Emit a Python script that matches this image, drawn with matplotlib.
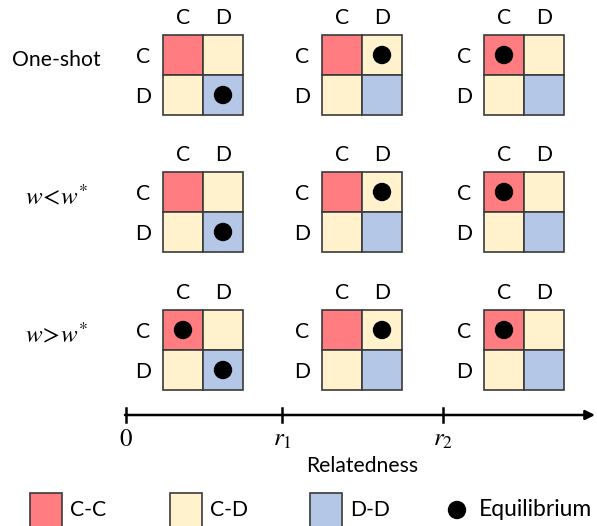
import matplotlib.pyplot as plt
from matplotlib.patches import Rectangle, Circle

plt.rcParams['font.family'] = ['Lato', 'DejaVu Sans']
plt.rcParams['mathtext.fontset'] = 'stix'

# scenarios (rows) and relatedness ranges (columns)
row_names = ["One-shot", r"$w\!<\!w^{*}$", r"$w\!>\!w^{*}$"]
strategies = ["C", "D"]
outcome_names = ["C-C", "C-D", "D-D"]
outcome_colors = ["#FF7C80", "#FFF2CC", "#B4C7E7"]
# outcome of each cell (row strategy, column strategy)
cell_outcome = [["C-C", "C-D"], ["C-D", "D-D"]]
# equilibrium cells (row idx, col idx) per scenario and relatedness range
equilibria = [
    [[(1, 1)], [(0, 1)], [(0, 0)]],
    [[(1, 1)], [(0, 1)], [(0, 0)]],
    [[(0, 0), (1, 1)], [(0, 1)], [(0, 0)]],
]
tick_labels = ["0", r"$r_1$", r"$r_2$"]
axis_label = "Relatedness"

fig = plt.figure(figsize=(5.97, 5.26), dpi=100)
ax = fig.add_axes([0, 0, 1, 1])
ax.set_xlim(0, 597)
ax.set_ylim(526, 0)
ax.axis('off')

grid_x = [163, 322, 484]
grid_y = [35, 172, 310]
cell = 40
edge = "#3A3A3A"
fs = 15.2

for i, name in enumerate(row_names):
    if i == 0:
        ax.text(12, grid_y[i] + 25, name, fontsize=fs, ha='left', va='center')
    else:
        ax.text(25, grid_y[i] + 25, name, fontsize=18, ha='left', va='center')
    for j in range(3):
        x0, y0 = grid_x[j], grid_y[i]
        for a in range(2):
            ax.text(x0 + cell * a + cell / 2, y0 - 17, strategies[a],
                    fontsize=fs, ha='center', va='center')
            ax.text(x0 - 20, y0 + cell * a + cell / 2 + 2, strategies[a],
                    fontsize=fs, ha='center', va='center')
            for b in range(2):
                col = outcome_colors[outcome_names.index(cell_outcome[a][b])]
                ax.add_patch(Rectangle((x0 + cell * b, y0 + cell * a), cell, cell,
                                       facecolor=col, edgecolor=edge, lw=1.2))
        for (a, b) in equilibria[i][j]:
            ax.add_patch(Circle((x0 + cell * b + cell / 2, y0 + cell * a + cell / 2),
                                8.5, color='black'))

# relatedness axis
ax.annotate("", xy=(595, 415), xytext=(125, 415),
            arrowprops=dict(arrowstyle='-|>', color='black', lw=1.8,
                            mutation_scale=14, shrinkA=0, shrinkB=0))
tick_x = [126, 282, 443]
for tx, lab in zip(tick_x, tick_labels):
    ax.plot([tx, tx], [408, 422], color='black', lw=1.8)
    ax.text(tx, 440, lab, fontsize=18, ha='center', va='center',
            family='STIXGeneral')
ax.text(362, 466, axis_label, fontsize=fs, ha='center', va='center')

# legend
leg_x = [30, 170, 310]
for lx, name, col in zip(leg_x, outcome_names, outcome_colors):
    ax.add_patch(Rectangle((lx, 493), 32, 34, facecolor=col, edgecolor=edge, lw=1.2))
    ax.text(lx + 40, 510, name, fontsize=fs, ha='left', va='center')
ax.add_patch(Circle((457, 510), 8.5, color='black'))
ax.text(479, 510, "Equilibrium", fontsize=16.5, ha='left', va='center')

fig.savefig("out.png", dpi=100)
